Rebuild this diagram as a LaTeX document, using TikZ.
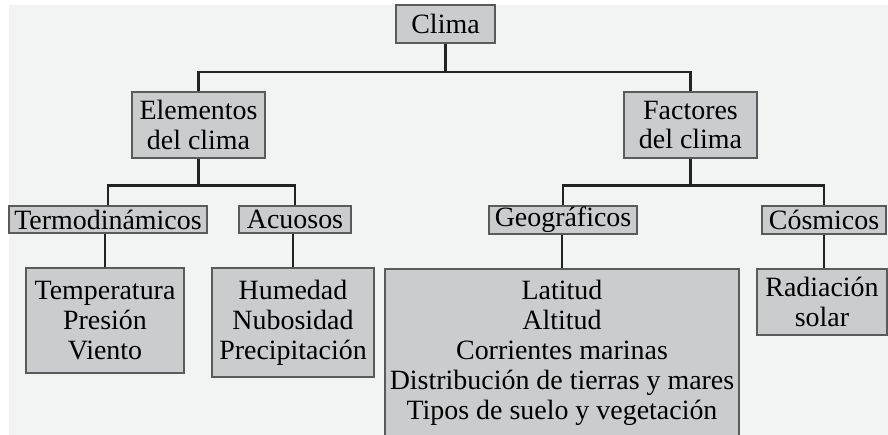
\documentclass[tikz,border=0pt]{standalone}
\usepackage{fontspec}
\setmainfont{Liberation Serif}
\usepackage{xcolor}
\definecolor{bggray}{RGB}{242,243,243}
\definecolor{boxgray}{RGB}{203,204,206}
\definecolor{boxedge}{RGB}{90,90,90}
\definecolor{linkdark}{RGB}{34,34,34}
\usepackage{tikz}
\usetikzlibrary{positioning}

\begin{document}
\begin{tikzpicture}[x=0.02cm, y=-0.02cm,
  every node/.style={font=\fontsize{15.9pt}{17pt}\selectfont},
  conceptbox/.style={draw=boxedge, fill=boxgray, line width=0.6pt,
      inner sep=0pt, align=center},
  link/.style={draw=linkdark, line width=1.6pt}]

\useasboundingbox (0,0) rectangle (888,435);
\fill[white] (0,0) rectangle (888,435);
\fill[bggray] (9,5) rectangle (888,435);

% --- Top level ---
\node[conceptbox, minimum width=99*0.02cm, minimum height=38*0.02cm]
      (clima) at (445.5,24) {Clima};

% --- Second level ---
\node[conceptbox, minimum width=133*0.02cm, minimum height=66*0.02cm]
      (elementos) at (198.5,125) {Elementos\\del clima};
\node[conceptbox, minimum width=133*0.02cm, minimum height=66*0.02cm]
      (factores) at (690.5,125) {Factores\\del clima};

% --- Third level ---
\node[conceptbox, minimum width=198*0.02cm, minimum height=27*0.02cm]
      (termo) at (108,219.5) {Termodinámicos};
\node[conceptbox, minimum width=112*0.02cm, minimum height=27*0.02cm]
      (acuosos) at (295,219.5) {Acuosos};
\node[conceptbox, minimum width=148*0.02cm, minimum height=28*0.02cm]
      (geograficos) at (563,220) {Geográficos};
\node[conceptbox, minimum width=124*0.02cm, minimum height=28*0.02cm]
      (cosmicos) at (824,220) {Cósmicos};

% --- Bottom level ---
\node[conceptbox, minimum width=158*0.02cm, minimum height=105*0.02cm]
      (temperatura) at (105,320.5) {Temperatura\\Presión\\Viento};
\node[conceptbox, minimum width=162*0.02cm, minimum height=109*0.02cm]
      (humedad) at (293,322.5) {Humedad\\Nubosidad\\Precipitación};
\node[conceptbox, minimum width=354*0.02cm, minimum height=168*0.02cm]
      (latitud) at (562,353) {Latitud\\Altitud\\Corrientes marinas\\
      Distribución de tierras y mares\\Tipos de suelo y vegetación};
\node[conceptbox, minimum width=130*0.02cm, minimum height=66*0.02cm]
      (radiacion) at (822,302) {Radiación\\solar};

% --- Connectors ---
\coordinate (bar-top) at (445.5,72);
\coordinate (bar-elem) at (198.5,185.5);
\coordinate (bar-fact) at (690.5,185.5);

\draw[link] (clima.south) -- (bar-top);
\draw[link] (elementos.north) |- (bar-top) -| (factores.north);

\draw[link] (elementos.south) -- (bar-elem);
\draw[link] (termo.north) |- (bar-elem) -| (acuosos.north);
\draw[link] (factores.south) -- (bar-fact);
\draw[link] (geograficos.north) |- (bar-fact) -| (cosmicos.north);

\draw[link] (temperatura.north) -- (temperatura.north |- termo.south);
\draw[link] (humedad.north) -- (humedad.north |- acuosos.south);
\draw[link] (latitud.north) -- (latitud.north |- geograficos.south);
\draw[link] (cosmicos.south) -- (cosmicos.south |- radiacion.north);

\end{tikzpicture}
\end{document}
